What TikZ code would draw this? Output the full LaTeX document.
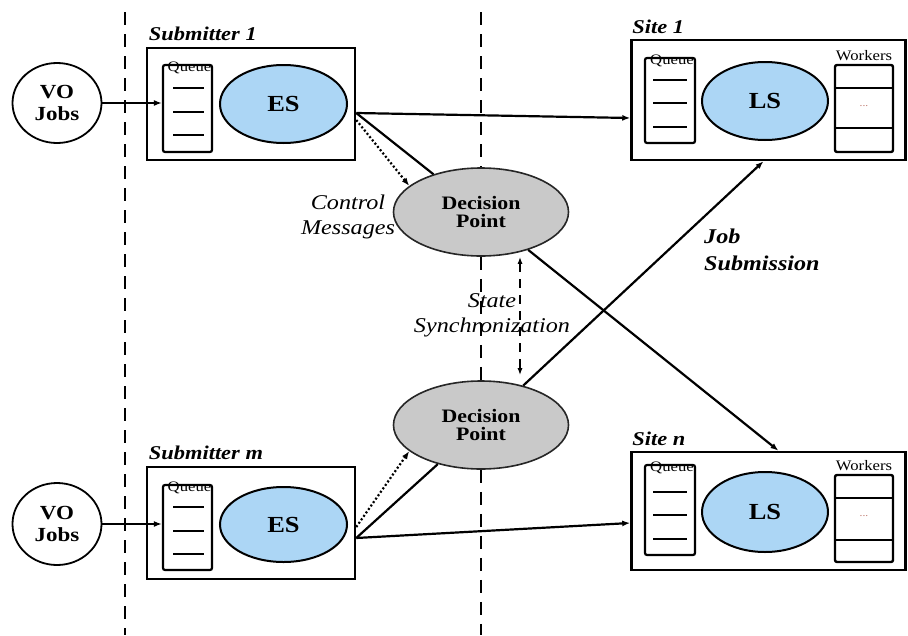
\documentclass[tikz,border=0pt]{standalone}
\usepackage{fontspec}
\setmainfont{Liberation Serif}[FakeStretch=1.15]
\usepackage{tikz}
\usetikzlibrary{arrows.meta, shapes, positioning}
\definecolor{schedblue}{RGB}{172,214,245}
\definecolor{decisiongray}{RGB}{201,201,201}
\definecolor{dotred}{RGB}{190,120,110}
\tikzstyle{separator} = [line width=2.8pt, dash pattern=on 13pt off 9pt]
\tikzstyle{jobs} = [ellipse, draw=black, line width=1.8pt, minimum width=89pt, minimum height=80pt, inner sep=0pt,
                    align=center, font=\fontsize{20}{22}\selectfont\bfseries]
\tikzstyle{host} = [rectangle, draw=black, line width=2.5pt]
\tikzstyle{hostname} = [anchor=base west, inner sep=0pt, font=\fontsize{19.5}{22}\selectfont\bfseries\itshape]
\tikzstyle{queue} = [rectangle, rounded corners=2pt, draw=black, line width=2.2pt, minimum width=49pt]
\tikzstyle{queuename} = [anchor=north, inner sep=0pt, font=\fontsize{14.5}{15}\selectfont]
\tikzstyle{qline} = [line width=2.5pt]
\tikzstyle{scheduler} = [ellipse, draw=black, line width=2pt, fill=schedblue, minimum width=127pt, minimum height=78pt,
                         inner sep=0pt, font=\fontsize{23}{24}\selectfont\bfseries]
\tikzstyle{workers} = [rectangle, rounded corners=2pt, draw=black, line width=2.4pt, minimum width=58pt, minimum height=87pt]
\tikzstyle{workersname} = [anchor=base, inner sep=0pt, font=\fontsize{14.5}{15}\selectfont]
\tikzstyle{decision} = [ellipse, draw=black!85, line width=1.6pt, fill=decisiongray, minimum width=175pt, minimum height=88pt,
                        inner sep=0pt, align=center, font=\fontsize{19}{18}\selectfont\bfseries]
\tikzstyle{link} = [line width=2.2pt]
\tikzstyle{submit} = [line width=2.2pt, -{Latex[length=8pt, width=6pt]}]
\tikzstyle{ctrl} = [line width=2.2pt, dash pattern=on 2pt off 2.2pt, -{Latex[length=8pt, width=6pt]}]
\tikzstyle{sync} = [line width=1.4pt, dash pattern=on 9pt off 7pt, {Latex[length=7pt, width=5pt]}-{Latex[length=7pt, width=5pt]}]
\tikzstyle{caption} = [align=center, inner sep=0pt, font=\fontsize{21}{25}\selectfont\itshape]

\begin{document}
\begin{tikzpicture}[x=1pt, y=-1pt]
				\useasboundingbox (0, 0) rectangle (908, 635);

				\coordinate (SepLTop) at (125, 12);
				\coordinate (SepLBot) at (125, 635);
				\draw[separator] (SepLTop) -- (SepLBot);

				\node (VO1) [jobs] at (57, 103) {VO\\Jobs};
				\node (VOm) [jobs, minimum height=82pt] at (57, 524) {VO\\Jobs};

				\node (Sub1) [host, minimum width=208pt, minimum height=112pt] at (251, 104) {};
				\node (Sub1Name) [hostname] at ([xshift=3pt, yshift=6pt]Sub1.north west) {Submitter 1};
				\node (Q1) [queue, minimum height=87pt] at (187.5, 108.5) {};
				\node (Q1Name) [queuename] at ([xshift=2pt, yshift=2pt]Q1.north) {Queue};
				\foreach \y in {88, 112, 135}
					\draw[qline] (173, \y) -- (204, \y);
				\node (ES1) [scheduler] at (283.5, 104) {ES};
				\draw[submit] (VO1.east) -- (Q1.west |- VO1.east);

				\node (Subm) [host, minimum width=208pt, minimum height=112pt] at (251, 523) {};
				\node (SubmName) [hostname] at ([xshift=3pt, yshift=6pt]Subm.north west) {Submitter \textit{m}};
				\node (Qm) [queue, minimum height=85pt] at (187.5, 527.5) {};
				\node (QmName) [queuename] at ([xshift=2pt, yshift=2pt]Qm.north) {Queue};
				\foreach \y in {507, 531, 554}
					\draw[qline] (173, \y) -- (204, \y);
				\node (ESm) [scheduler, minimum height=75pt] at (283.5, 524.5) {ES};
				\draw[submit] (VOm.east) -- (Qm.west |- VOm.east);

				\node (Site1) [host, minimum width=274pt, minimum height=120pt] at (768.5, 100) {};
				\node (Site1Name) [hostname] at ([xshift=2pt, yshift=5pt]Site1.north west) {Site 1};
				\node (SQ1) [queue, minimum width=50pt, minimum height=85pt] at (670, 100.5) {};
				\node (SQ1Name) [queuename] at ([xshift=2pt, yshift=2pt]SQ1.north) {Queue};
				\foreach \y in {80, 103, 127}
					\draw[qline] (653, \y) -- (687, \y);
				\node (LS1) [scheduler, minimum width=126pt] at (765, 101) {LS};
				\node (W1) [workers] at (864, 108.5) {};
				\node (W1Name) [workersname] at ([yshift=3pt]W1.north) {Workers};
				\foreach \y in {88, 128}
					\draw[qline, line width=2.4pt] (835, \y) -- (893, \y);
				\node (W1Dots) [text=dotred, font=\fontsize{10}{10}\selectfont] at (864, 106) {...};

				\node (Siten) [host, minimum width=274pt, minimum height=118pt] at (768.5, 511) {};
				\node (SitenName) [hostname] at ([xshift=2pt, yshift=5pt]Siten.north west) {Site \textit{n}};
				\node (SQn) [queue, minimum width=50pt, minimum height=90pt] at (670, 510) {};
				\node (SQnName) [queuename] at ([xshift=2pt, yshift=2pt]SQn.north) {Queue};
				\foreach \y in {492, 515, 539}
					\draw[qline] (653, \y) -- (687, \y);
				\node (LSn) [scheduler, minimum width=126pt, minimum height=80pt] at (765, 512) {LS};
				\node (Wn) [workers] at (864, 518.5) {};
				\node (WnName) [workersname] at ([yshift=3pt]Wn.north) {Workers};
				\foreach \y in {498, 540}
					\draw[qline, line width=2.4pt] (835, \y) -- (893, \y);
				\node (WnDots) [text=dotred, font=\fontsize{10}{10}\selectfont] at (864, 516) {...};

				\node (DP1) [decision] at (481, 212) {Decision\\Point};
				\node (DP2) [decision] at (481, 425) {Decision\\Point};

				\coordinate (SepRTop) at (481, 12);
				\coordinate (SepRBot) at (481, 635);
				\draw[separator] (SepRTop) -- (DP1.north);
				\draw[separator] (DP1.south) -- (DP2.north);
				\draw[separator] (DP2.south) -- (SepRBot);

				\draw[submit] ([yshift=-9pt]Sub1.east) -- ([yshift=-18pt]Site1.west);
				\draw[link] ([yshift=-9pt]Sub1.east) -- (DP1);
				\draw[ctrl] ([yshift=-16pt]Sub1.east) -- (DP1.160);

				\draw[submit] ([yshift=-15pt]Subm.east) -- ([yshift=-12pt]Siten.west);
				\draw[link] ([yshift=-15pt]Subm.east) -- (DP2);
				\draw[ctrl] ([yshift=-4pt]Subm.east) -- (DP2.200);

				\draw[submit] (DP1) -- ([xshift=10pt]Siten.north);
				\draw[submit] (DP2) -- ([xshift=-5pt]Site1.south);
				\draw[sync, shorten >=5pt] ([xshift=39pt]DP1.south) -- ([xshift=39pt]DP2.north);

				\node (CtrlLabel) [caption] at (348, 217) {Control\\Messages};
				\node (SyncLabel) [caption] at (492, 315) {State\\Synchronization};
				\node (JobLabel) [caption, align=left, anchor=west, font=\fontsize{21}{27}\selectfont\bfseries\itshape] at (704, 250) {Job\\Submission};
			\end{tikzpicture}
\end{document}
